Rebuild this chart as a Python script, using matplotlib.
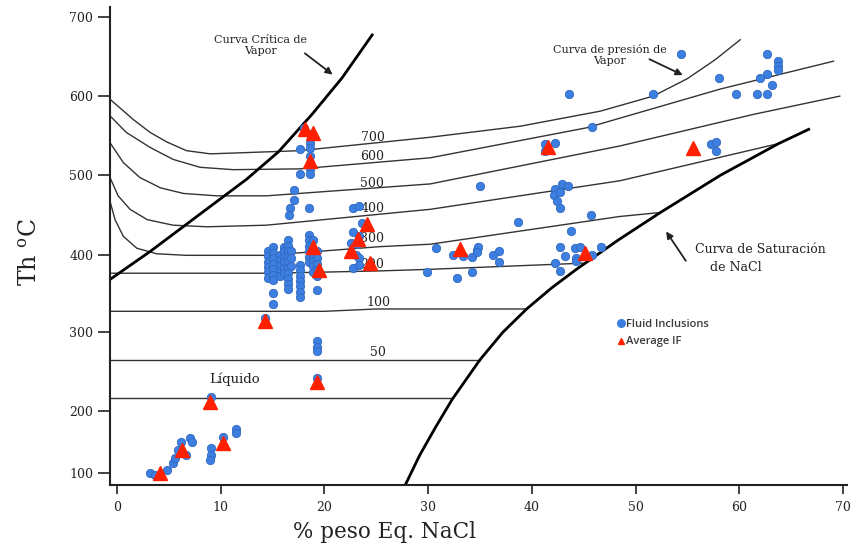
import numpy as np
import matplotlib
matplotlib.use("Agg")
import matplotlib.pyplot as plt
from matplotlib.lines import Line2D

plt.rcParams["mathtext.fontset"] = "dejavuserif"

# ---- axis calibration (tick value -> height in px from bottom spine)
Y_TICKS = [100, 200, 300, 400, 500, 600, 700]
Y_POS = [11.7, 74.0, 152.3, 230.0, 309.3, 388.3, 467.7]
X_TICKS = [0, 10, 20, 30, 40, 50, 60, 70]

# ---- fluid inclusions (% wt NaCl eq., Th)
fi_low = [(3.2, 100), (3.7, 97), (4.8, 105), (5.4, 116), (5.6, 124), (5.9, 137),
          (6.2, 150), (7.0, 156), (7.2, 150), (6.6, 129), (9.1, 217), (9.1, 140),
          (9.05, 129), (9.0, 121), (10.25, 158), (11.5, 170), (11.5, 164)]
fi_mid = [(14.3, 318), (19.3, 289), (19.3, 281), (19.3, 276), (19.3, 242), (19.3, 355),
          (14.6, 405), (14.6, 398), (14.6, 391), (14.6, 384), (14.6, 377), (14.6, 370),
          (15.0, 410), (15.0, 402), (15.0, 395), (15.0, 388), (15.0, 381), (15.0, 374),
          (15.0, 367), (15.0, 350), (15.0, 337),
          (15.7, 400), (15.7, 393), (15.7, 386), (15.7, 379), (15.7, 372),
          (16.1, 410), (16.1, 404), (16.1, 397), (16.1, 390), (16.1, 383), (16.1, 376),
          (16.5, 418), (16.5, 411), (16.5, 404), (16.5, 397), (16.5, 390), (16.5, 383),
          (16.5, 376), (16.5, 369), (16.5, 362), (16.5, 356),
          (16.8, 405), (16.8, 395), (16.8, 385),
          (17.6, 387), (17.6, 380), (17.6, 373), (17.6, 366), (17.6, 359), (17.6, 352),
          (17.6, 345),
          (18.5, 425), (18.5, 418), (18.5, 411), (18.5, 404), (18.5, 397), (18.5, 390),
          (18.9, 418), (18.9, 400), (18.9, 392), (18.9, 385), (18.9, 378),
          (19.3, 405), (19.3, 396), (19.3, 388), (19.3, 380), (19.3, 373)]
fi_col = [(18.0, 560), (18.6, 552), (18.6, 541), (18.6, 535), (17.6, 533), (18.6, 524),
          (18.6, 516), (18.6, 508), (18.6, 501), (17.6, 501), (17.1, 481), (17.1, 469),
          (16.7, 459), (16.6, 450), (18.5, 459)]
fi_23 = [(22.8, 459), (23.3, 461), (23.6, 440), (22.8, 428), (23.3, 423), (22.6, 415),
         (23.1, 413), (23.0, 400), (23.3, 396), (22.8, 383), (23.3, 387)]
fi_33 = [(35.0, 487), (38.7, 441), (30.8, 408), (32.4, 399), (33.4, 398), (34.2, 397),
         (34.7, 406), (34.8, 410), (34.7, 403), (36.3, 399), (36.8, 404), (36.8, 390),
         (29.9, 377), (32.8, 370), (34.2, 378)]
fi_43 = [(42.2, 482), (42.9, 489), (43.5, 487), (42.1, 475), (42.7, 479), (42.4, 468),
         (42.7, 459), (45.7, 450), (43.8, 430), (42.7, 409), (43.2, 398), (42.2, 389),
         (42.7, 379), (44.2, 408), (44.6, 409), (44.3, 396), (45.8, 399), (46.7, 410),
         (44.3, 392)]
fi_high = [(43.6, 603), (54.4, 653), (51.7, 603), (58.1, 623), (62.7, 653), (63.7, 644),
           (63.7, 638), (63.7, 633), (62.7, 628), (62.0, 623), (63.2, 614), (59.7, 603),
           (61.7, 603), (62.7, 603), (45.8, 561), (41.3, 539), (42.2, 541), (41.3, 531),
           (57.3, 539), (57.8, 542), (57.8, 531)]

# ---- averages per group
avg_if = [(4.15, 100), (6.24, 137), (9.0, 211), (10.25, 148), (14.3, 315), (19.3, 236),
          (18.1, 558), (18.9, 554), (18.6, 518), (18.9, 409), (19.5, 380), (24.1, 438),
          (23.2, 419), (22.6, 404), (24.4, 389), (33.1, 407), (45.1, 402), (41.6, 536),
          (55.5, 535)]

# ---- phase-diagram curves
critica = [(-0.68, 368), (3.2, 404), (8.0, 451), (12.5, 495), (15.6, 530), (18.8, 577),
           (21.7, 623), (24.6, 677)]
saturacion = [(27.8, 81), (29.2, 129), (30.7, 173), (32.3, 214), (35.0, 265), (37.2, 300),
              (39.5, 330), (41.9, 357), (44.3, 381), (48.3, 418), (52.4, 453), (58.2, 500),
              (63.8, 540), (66.7, 558)]
iso_700 = [(-0.68, 596), (1.6, 570), (3.2, 554), (4.8, 542), (6.7, 531), (9.0, 527),
           (17.6, 531), (30.2, 548), (38.9, 562), (46.6, 581), (51.7, 600), (55.0, 622),
           (57.7, 646), (60.1, 671)]
iso_600 = [(-0.68, 575), (0.9, 554), (3.2, 535), (5.4, 520), (8.0, 510), (11.2, 507),
           (17.6, 508), (30.2, 522), (45.3, 560), (58.2, 609), (69.1, 644)]
iso_500 = [(-0.68, 541), (0.6, 516), (2.2, 497), (4.2, 484), (6.4, 477), (9.6, 474),
           (14.4, 474), (30.2, 489), (48.5, 537), (61.4, 577), (69.7, 600)]
iso_400 = [(-0.68, 497), (0.1, 474), (1.25, 457), (2.9, 444), (5.4, 437), (8.7, 435),
           (14.4, 437), (30.2, 457), (48.5, 493), (63.8, 540)]
iso_300 = [(-0.68, 467), (-0.2, 444), (0.6, 423), (1.9, 408), (3.8, 401), (6.7, 399),
           (14.4, 399), (25.4, 410), (30.2, 413), (48.5, 448), (52.4, 453)]
iso_200 = [(-0.68, 376), (15.0, 376), (25.4, 379), (30.2, 381), (45.1, 389)]
iso_100 = [(-0.68, 327), (20.0, 327), (25.0, 330), (39.5, 330)]
iso_50 = [(-0.68, 265), (35.0, 265)]
liquido = [(-0.68, 216), (32.3, 216)]
isobars = [iso_700, iso_600, iso_500, iso_400, iso_300, iso_200, iso_100, iso_50, liquido]

iso_labels = ["700", "600", "500", "400", "300", "200", "100", "50"]
iso_label_pos = [(24.7, 548), (24.6, 524), (24.6, 490), (24.6, 458), (24.6, 420),
                 (24.6, 387), (25.2, 338), (25.2, 274)]


def fwd(y):
    y = np.asarray(y, dtype=float)
    out = np.interp(y, Y_TICKS, Y_POS)
    s0 = (Y_POS[1] - Y_POS[0]) / (Y_TICKS[1] - Y_TICKS[0])
    s1 = (Y_POS[-1] - Y_POS[-2]) / (Y_TICKS[-1] - Y_TICKS[-2])
    out = np.where(y < Y_TICKS[0], Y_POS[0] + (y - Y_TICKS[0]) * s0, out)
    out = np.where(y > Y_TICKS[-1], Y_POS[-1] + (y - Y_TICKS[-1]) * s1, out)
    return out


def inv(p):
    p = np.asarray(p, dtype=float)
    out = np.interp(p, Y_POS, Y_TICKS)
    s0 = (Y_TICKS[1] - Y_TICKS[0]) / (Y_POS[1] - Y_POS[0])
    s1 = (Y_TICKS[-1] - Y_TICKS[-2]) / (Y_POS[-1] - Y_POS[-2])
    out = np.where(p < Y_POS[0], Y_TICKS[0] + (p - Y_POS[0]) * s0, out)
    out = np.where(p > Y_POS[-1], Y_TICKS[-1] + (p - Y_POS[-1]) * s1, out)
    return out


def xy(pts):
    a = np.array(pts, dtype=float)
    return a[:, 0], a[:, 1]


serif = "DejaVu Serif"
ink = "#222222"
blue = "#3d7fe0"
red = "#ff2000"

fig = plt.figure(figsize=(8.53, 5.5), dpi=100)
ax = fig.add_axes([0.129, 0.118, 0.864, 0.869])
ax.set_yscale("function", functions=(fwd, inv))
ax.set_xlim(-0.68, 70.4)
ax.set_ylim(80.6, 712)

# curves
for c in isobars:
    x, y = xy(c)
    ax.plot(x, y, color="#333333", lw=1.0, zorder=2, solid_joinstyle="round")
x, y = xy(critica)
ax.plot(x, y, color="black", lw=2.0, zorder=2, solid_joinstyle="round")
x, y = xy(saturacion)
ax.plot(x, y, color="black", lw=2.0, zorder=2, solid_joinstyle="round")

for lab, (lx, ly) in zip(iso_labels, iso_label_pos):
    ax.text(lx, ly, lab, family=serif, fontsize=9, color=ink, ha="center", va="center", zorder=3)

# data
fi = fi_low + fi_mid + fi_col + fi_23 + fi_33 + fi_43 + fi_high
x, y = xy(fi)
ax.plot(x, y, "o", ms=6, color=blue, mec="#3068c0", mew=0.6, zorder=4)
x, y = xy(avg_if)
ax.plot(x, y, "^", ms=10, color=red, mec=red, zorder=5)

# annotations
ax.text(13.8, 664, "Curva Crítica de\nVapor", family=serif, fontsize=8, color=ink,
        ha="center", va="center", linespacing=1.1)
ax.annotate("", xy=(21.0, 625), xytext=(17.9, 656),
            arrowprops=dict(arrowstyle="-|>", color=ink, lw=1.3, mutation_scale=10))
ax.text(47.5, 652, "Curva de presión de\nVapor", family=serif, fontsize=8, color=ink,
        ha="center", va="center", linespacing=1.1)
ax.annotate("", xy=(54.8, 625), xytext=(51.1, 648),
            arrowprops=dict(arrowstyle="-|>", color=ink, lw=1.3, mutation_scale=10))
ax.text(62.0, 406, "Curva de Saturación", family=serif, fontsize=9, color=ink,
        ha="center", va="center")
ax.text(59.7, 383, "de NaCl", family=serif, fontsize=9, color=ink, ha="center", va="center")
ax.annotate("", xy=(52.8, 432), xytext=(55.0, 389),
            arrowprops=dict(arrowstyle="-|>", color=ink, lw=1.3, mutation_scale=10))
ax.text(11.3, 240, "Líquido", family=serif, fontsize=9.5, color=ink, ha="center", va="center")

# legend
handles = [Line2D([], [], marker="o", ls="none", ms=5.5, color=blue, mec=blue),
           Line2D([], [], marker="^", ls="none", ms=5, color=red, mec=red)]
ax.legend(handles, ["Fluid Inclusions", "Average IF"], loc="upper left",
          bbox_to_anchor=(0.689, 0.348), frameon=False, handlelength=0.6,
          handletextpad=0.15, labelspacing=0.6, borderpad=0, borderaxespad=0,
          prop={"family": "Open Sans", "size": 8, "weight": "semibold"},
          labelcolor="#3a3a3a")

# axes styling
for s in ["top", "right"]:
    ax.spines[s].set_visible(False)
for s in ["left", "bottom"]:
    ax.spines[s].set_linewidth(1.5)
    ax.spines[s].set_color(ink)
ax.set_xticks(X_TICKS)
ax.set_yticks(Y_TICKS)
ax.tick_params(axis="y", direction="out", length=9, width=1.2, pad=3, color=ink,
               labelsize=9, labelcolor=ink)
ax.tick_params(axis="x", direction="out", length=6.5, width=1.2, pad=5, color=ink,
               labelsize=9, labelcolor=ink)
for t in ax.get_xticklabels() + ax.get_yticklabels():
    t.set_family(serif)
ax.minorticks_off()

ax.text(-0.108, 0.487, r"Th $^{\mathrm{o}}$C", transform=ax.transAxes, rotation=90,
        family=serif, fontsize=17, color=ink, ha="center", va="center")
ax.text(0.372, -0.098, "% peso Eq. NaCl", transform=ax.transAxes, family=serif,
        fontsize=15.5, color=ink, ha="center", va="center")

fig.savefig("out.png", dpi=100)
